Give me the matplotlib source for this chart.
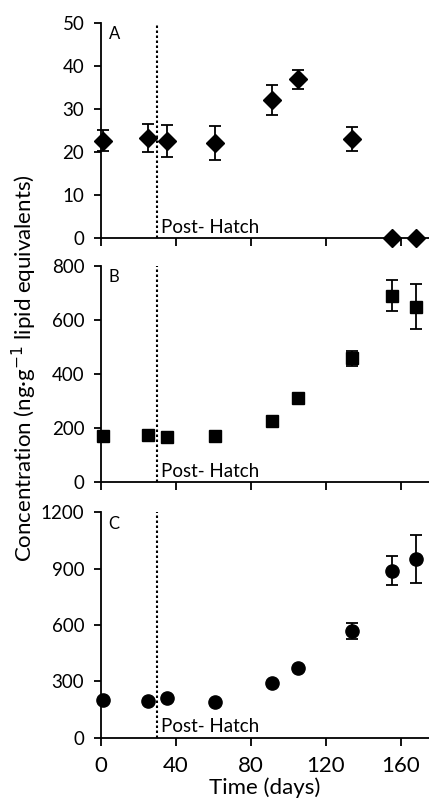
import matplotlib
matplotlib.use("Agg")
import matplotlib.pyplot as plt

plt.rcParams['font.family'] = ['Lato', 'DejaVu Sans']

# data
days = [1, 25, 35, 61, 91, 105, 134, 155, 168]

a_vals = [22.6, 23.3, 22.6, 22.0, 32.1, 36.9, 23.0, 0, 0]
a_err = [2.5, 3.3, 3.7, 4.0, 3.5, 2.2, 2.9, 0, 0]

b_vals = [170, 174, 168, 170, 226, 312, 457, 689, 648]
b_err = [0, 0, 0, 0, 0, 0, 28, 58, 83]

c_vals = [200, 195, 209, 188, 291, 373, 568, 888, 950]
c_err = [0, 0, 0, 0, 0, 0, 40, 77, 128]

hatch_day = 30
xticks = [0, 40, 80, 120, 160]

panels = [
    ("A", a_vals, a_err, "D", 9, [0, 10, 20, 30, 40, 50], (0, 50)),
    ("B", b_vals, b_err, "s", 9, [0, 200, 400, 600, 800], (0, 800)),
    ("C", c_vals, c_err, "o", 9.5, [0, 300, 600, 900, 1200], (0, 1200)),
]

# axes boxes in figure fractions
boxes = [
    [0.2354, 0.7055, 0.7646, 0.2657],
    [0.2354, 0.4027, 0.7646, 0.2680],
    [0.2354, 0.0859, 0.7646, 0.2793],
]

fig = plt.figure(figsize=(4.29, 8.07), dpi=100)

for i, (lab, vals, err, mk, ms, yt, ylim) in enumerate(panels):
    ax = fig.add_axes(boxes[i])
    ax.errorbar(days, vals, yerr=err, fmt=mk, color="black", ms=ms,
                ecolor="black", elinewidth=1.3, capsize=4, capthick=1.3,
                clip_on=False, zorder=3)
    ax.axvline(hatch_day, color="black", ls=(0, (1.2, 1.2)), lw=1.5)
    ax.set_xlim(0, 175)
    ax.set_ylim(*ylim)
    ax.set_yticks(yt)
    ax.set_xticks(xticks)
    ax.spines["top"].set_visible(False)
    ax.spines["right"].set_visible(False)
    ax.spines["left"].set_linewidth(1.3)
    ax.spines["bottom"].set_linewidth(1.3)
    ax.tick_params(axis="y", direction="out", length=5, width=1.3,
                   labelsize=13.5, pad=7)
    ax.tick_params(axis="x", direction="out", length=6, width=1.3,
                   labelsize=16, pad=7)
    if i < 2:
        ax.tick_params(axis="x", labelbottom=False)
    ax.text(4, ylim[1] * 0.985, lab, ha="left", va="top", fontsize=12)
    ax.text(32, ylim[1] * 0.01, "Post- Hatch", ha="left", va="bottom", fontsize=13.5)
    if i == 2:
        ax.set_xlabel("Time (days)", fontsize=16, labelpad=1)

fig.text(0.056, 0.544, r"Concentration (ng·g$^{-1}$ lipid equivalents)",
         rotation=90, ha="center", va="center", fontsize=16)

fig.savefig("out.png", dpi=100)
